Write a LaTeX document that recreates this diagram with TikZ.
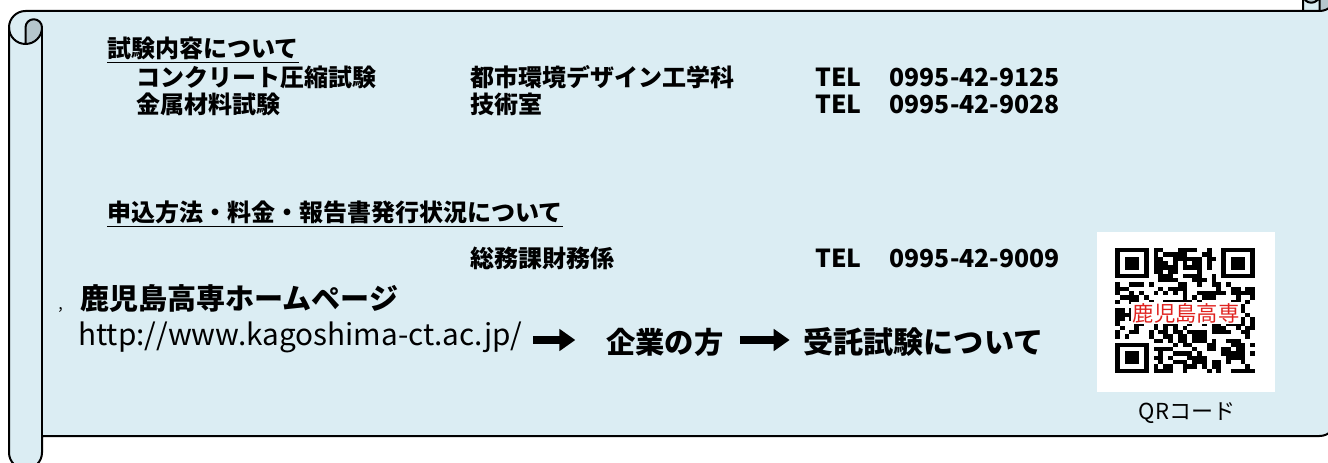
\documentclass[tikz,border=0pt]{standalone}
\usepackage{fontspec}
\setmainfont{Noto Sans CJK JP}
\usetikzlibrary{arrows.meta}
\definecolor{scrollfill}{HTML}{DBEDF3}
\definecolor{scrollshade}{HTML}{B5C6CC}
\definecolor{qrred}{HTML}{E0211E}
\begin{document}
\begin{tikzpicture}[x=0.75pt,y=-0.75pt,
  outline/.style={draw=black,line width=1.5pt,line join=round},
  txt/.style={anchor=west,inner sep=0pt,font=\bfseries\fontsize{18}{20}\selectfont},
  teltxt/.style={anchor=west,inner sep=0pt,font=\bfseries\fontsize{18.6}{20}\selectfont},
  big/.style={anchor=west,inner sep=0pt,font=\bfseries\fontsize{22}{24}\selectfont},
  urltxt/.style={anchor=west,inner sep=0pt,font=\fontsize{22.3}{24}\selectfont},
  bigarrow/.style={line width=5.5pt,-{Triangle[length=12pt,width=16pt]}},
  qrmod/.style={fill=black}]
\useasboundingbox (0,0) rectangle (1328,463);
\clip (0,0) rectangle (1328,463);
% scroll body
\fill[scrollfill] (1336,-5.5) arc[start angle=0,delta angle=90,radius=16.5]
  -- (1319.5,-5.5) arc[start angle=0,delta angle=180,radius=8.25]
  -- (1303,11) -- (25.5,11) arc[start angle=270,delta angle=-90,radius=16.5]
  -- (9,452.5) arc[start angle=180,delta angle=-180,radius=16.5]
  -- (42,436) -- (1319.5,436) arc[start angle=90,delta angle=-90,radius=16.5] -- cycle;
% shaded curls
\fill[scrollshade] (25.5,44) arc[start angle=90,delta angle=-90,radius=16.5]
  arc[start angle=0,delta angle=-180,radius=8.25] -- cycle;
\fill[scrollshade] (1319.5,11) arc[start angle=90,delta angle=-270,radius=16.5]
  arc[start angle=180,delta angle=-180,radius=8.25] -- cycle;
% outlines
\draw[outline] (9,27.5) arc[start angle=180,delta angle=90,radius=16.5]
  -- (1303,11) -- (1303,-5.5) arc[start angle=180,delta angle=180,radius=16.5]
  -- (1336,419.5) arc[start angle=0,delta angle=90,radius=16.5]
  -- (42,436) -- (42,452.5) arc[start angle=0,delta angle=180,radius=16.5] -- cycle;
\draw[outline] (1303,11) -- (1319.5,11) arc[start angle=90,delta angle=-90,radius=16.5];
\draw[outline] (1319.5,11) -- (1319.5,-5.5) arc[start angle=0,delta angle=180,radius=8.25];
\draw[outline] (25.5,44) -- (25.5,27.5) arc[start angle=180,delta angle=180,radius=8.25]
  arc[start angle=0,delta angle=180,radius=16.5];
\draw[outline] (42,27.5) -- (42,436);
% texts
\node[txt] (h1) at (107,50) {\underline{試験内容について}};
\node[txt] (c1) at (136,77) {コンクリート圧縮試験};
\node[txt] (d1) at (470,77) {都市環境デザイン工学科};
\node[teltxt] (t1) at (815,77) {TEL\hspace{21pt}0995-42-9125};
\node[txt] (c2) at (136,104) {金属材料試験};
\node[txt] (d2) at (470,104) {技術室};
\node[teltxt] (t2) at (815,104) {TEL\hspace{21pt}0995-42-9028};
\node[txt] (h2) at (107,214) {\underline{申込方法・料金・報告書発行状況について}};
\node[txt] (d3) at (470,258) {総務課財務係};
\node[teltxt] (t3) at (815,258) {TEL\hspace{21pt}0995-42-9009};
\node[anchor=west,inner sep=0pt,font=\bfseries\fontsize{21.8}{24}\selectfont] (hp) at (80,299) {鹿児島高専ホームページ};
\node[anchor=west,inner sep=0pt,font=\fontsize{12}{14}\selectfont] (cm) at (58,310) {,};
\node[urltxt] (url) at (78,337) {http://www.kagoshima-ct.ac.jp/};
\node[big] (kg) at (606,342) {企業の方};
\node[big,font=\bfseries\fontsize{22.6}{24}\selectfont] (jt) at (803,342) {受託試験について};
\coordinate (arow) at (0,340);
\draw[bigarrow,shorten <=8pt,shorten >=23pt] (url.east |- arow) -- (kg.west |- arow);
\draw[bigarrow,shorten <=12pt,shorten >=10pt] (kg.east |- arow) -- (jt.west |- arow);
% QR code
\fill[white] (1097,232) rectangle (1275,392);
\def\qx{1115}\def\qy{248}\def\mw{4.8276}\def\mh{4.3103}
\pgfmathsetseed{4711}
\foreach \i in {0,...,28}{
  \foreach \j in {0,...,28}{
    \pgfmathtruncatemacro\skipit{((\i<8)&&(\j<8))||((\i>20)&&(\j<8))||((\i<8)&&(\j>20))}
    \pgfmathrandominteger{\rr}{0}{99}
    \ifnum\skipit=0 \ifnum\rr<50
      \fill[qrmod] (\qx+\i*\mw,\qy+\j*\mh) rectangle ++(\mw,\mh);
    \fi\fi
  }
}
\foreach \ci/\cj in {0/0,22/0,0/22}{
  \fill[black] (\qx+\ci*\mw,\qy+\cj*\mh) rectangle ++(7*\mw,7*\mh);
  \fill[white] (\qx+\ci*\mw+\mw,\qy+\cj*\mh+\mh) rectangle ++(5*\mw,5*\mh);
  \fill[black] (\qx+\ci*\mw+2*\mw,\qy+\cj*\mh+2*\mh) rectangle ++(3*\mw,3*\mh);
}
\node[fill=white,inner sep=1pt,text=qrred,font=\fontsize{16}{17}\selectfont] (qrt) at (1186,313) {鹿児島高専};
\node[inner sep=0pt,font=\fontsize{16.5}{18}\selectfont] (qrc) at (1187,413) {QRコード};
\end{tikzpicture}
\end{document}
